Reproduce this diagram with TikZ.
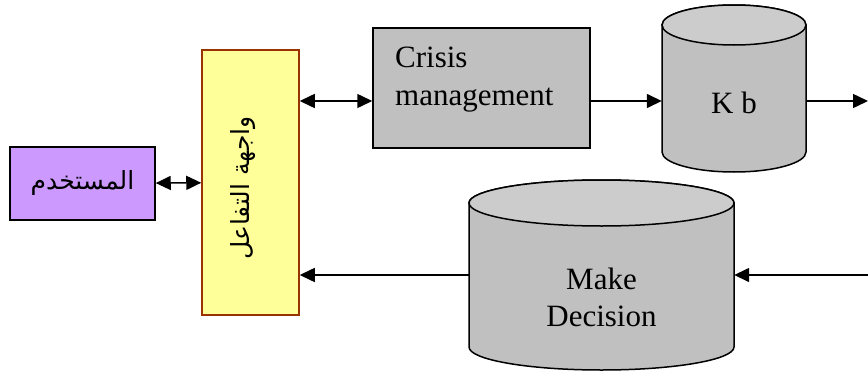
\documentclass[tikz,border=0pt]{standalone}
\usepackage{fontspec}
\setmainfont{Liberation Serif}
\newfontfamily\arabicfont[Script=Arabic]{DejaVu Sans}
\TeXXeTstate=1
\usetikzlibrary{arrows.meta}
\definecolor{userpurple}{HTML}{CC99FF}
\definecolor{iyellow}{HTML}{FFFF99}
\definecolor{ibrown}{HTML}{993300}
\definecolor{boxgray}{HTML}{C0C0C0}
\definecolor{topgray}{HTML}{CCCCCC}
\begin{document}
\begin{tikzpicture}[x=1pt,y=-1pt,
  box/.style={draw=black, line width=1.5pt, inner sep=0pt},
  tip/.style={},
  conn/.style={line width=1.5pt, -{Triangle[length=15pt,width=14pt]}},
  dconn/.style={line width=1.5pt, {Triangle[length=15pt,width=14pt]}-{Triangle[length=15pt,width=14pt]}},
  lbl/.style={font=\fontsize{31}{37.5}\selectfont, inner sep=0pt},
  arlbl/.style={font=\arabicfont\fontsize{25}{28}\selectfont},
  cylline/.style={draw=black, line width=1.5pt}
]
\useasboundingbox (0,0) rectangle (868,372);

% K b cylinder
\filldraw[cylline, fill=boxgray] (662,25) -- (662,152)
  arc[start angle=180, end angle=360, x radius=72pt, y radius=20pt]
  -- (806,25)
  arc[start angle=0, end angle=180, x radius=72pt, y radius=20pt] -- cycle;
\filldraw[cylline, fill=topgray] (734,25) ellipse [x radius=72pt, y radius=20pt];

% Make Decision cylinder
\filldraw[cylline, fill=boxgray] (469,203) -- (469,347)
  arc[start angle=180, end angle=360, x radius=132.5pt, y radius=23pt]
  -- (734,203)
  arc[start angle=0, end angle=180, x radius=132.5pt, y radius=23pt] -- cycle;
\filldraw[cylline, fill=topgray] (601.5,203) ellipse [x radius=132.5pt, y radius=23pt];

\node[box, fill=userpurple, minimum width=145pt, minimum height=73pt, arlbl] (user) at (82.5,183.5) {\beginR المستخدم\endR};
\node[box, draw=ibrown, fill=iyellow, minimum width=97pt, minimum height=265pt] (ui) at (250.5,182.5) {};
\node[arlbl, rotate=90, inner sep=0pt] (uitext) at (243,188) {\beginR واجهة التفاعل\endR};
\node[box, fill=boxgray, minimum width=217pt, minimum height=120pt] (cm) at (481.5,88) {};
\node[lbl, anchor=north west, align=left] (cmtext) at (395,47) {Crisis\\management};
\node[lbl, minimum width=144pt] (kb) at (734,103.2) {K b};
\node[lbl, minimum width=265pt, align=center] (md) at (601.5,297.5) {Make\\Decision};

\coordinate (rowA) at (0,101);
\coordinate (rowB) at (0,275);
\coordinate (outA) at (868,101);
\coordinate (outB) at (868,275);

\draw[dconn] (user) -- (ui);
\draw[dconn] (ui.east |- rowA) -- (cm.west |- rowA);
\draw[conn] (cm.east |- rowA) -- (kb.west |- rowA);
\draw[conn] (kb.east |- rowA) -- (outA);
\draw[conn] (outB) -- (md.east |- rowB);
\draw[conn] (md.west |- rowB) -- (ui.east |- rowB);
\end{tikzpicture}
\end{document}
